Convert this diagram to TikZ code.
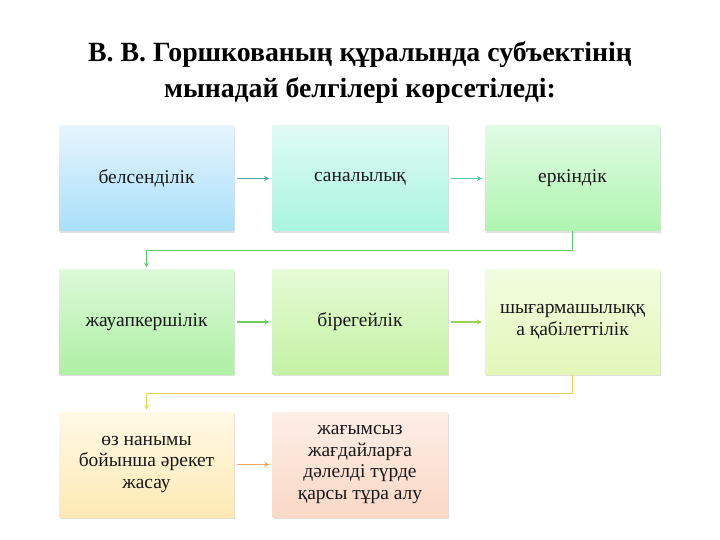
\documentclass[tikz,border=0pt]{standalone}
\usepackage{fontspec}
\setmainfont{Liberation Serif}
\usetikzlibrary{shadows}
\definecolor{arrA}{HTML}{4BA3B3}
\definecolor{arrB}{HTML}{4DC9A8}
\definecolor{arrC}{HTML}{5CCB6E}
\definecolor{arrD}{HTML}{70CC60}
\definecolor{arrE}{HTML}{9AD448}
\definecolor{arrF}{HTML}{E8D44A}
\definecolor{arrG}{HTML}{F4A55A}
% box shading, top and bottom
\definecolor{belT}{HTML}{E6F5FD}\definecolor{belB}{HTML}{A8DFF9}
\definecolor{sanT}{HTML}{E0FBF3}\definecolor{sanB}{HTML}{A9F5DF}
\definecolor{erkT}{HTML}{E0FBE3}\definecolor{erkB}{HTML}{AFF5B0}
\definecolor{jauT}{HTML}{DCF9D8}\definecolor{jauB}{HTML}{AEF0A4}
\definecolor{birT}{HTML}{E6FBD6}\definecolor{birB}{HTML}{C4F2A4}
\definecolor{shyT}{HTML}{F2FCE0}\definecolor{shyB}{HTML}{E4F7B8}
\definecolor{nanT}{HTML}{FFF9E6}\definecolor{nanB}{HTML}{FDE9B4}
\definecolor{jagT}{HTML}{FDEEE6}\definecolor{jagB}{HTML}{FAD8C6}
\begin{document}
\begin{tikzpicture}[x=1pt,y=-1pt,
        heading/.style={align=center,font=\bfseries\fontsize{27.8}{36}\selectfont},
        box/.style={minimum width=175pt,minimum height=105pt,inner sep=2pt,
           align=center,text=black!90,font=\fontsize{19.5}{21.7}\selectfont,
           top color=#1T,bottom color=#1B,
           drop shadow={shadow xshift=1pt,shadow yshift=-1.5pt,opacity=0.25}},
        link/.style={-stealth,line width=1.25pt,shorten <=3pt,shorten >=3pt},
        turn/.style={-stealth,line width=1.1pt,shorten >=2pt},
    ]
    \useasboundingbox (0,0) rectangle (720,540);
    \node[heading] (ttl) at (360,73)
        {В. В. Горшкованың құралында субъектінің\\мынадай белгілері көрсетіледі:};
    % first row
    \node[box=bel] (bel) at (146.5,178.5) {белсенділік};
    \node[box=san] (san) at (360,178.5) {саналылық};
    \node[box=erk] (erk) at (572.5,178.5) {еркіндік};
    % second row
    \node[box=jau] (jau) at (146.5,322) {жауапкершілік};
    \node[box=bir] (bir) at (360,322) {бірегейлік};
    \node[box=shy] (shy) at (572.5,322) {шығармашылыққ\\а қабілеттілік};
    % third row
    \node[box=nan] (nan) at (146.5,464.5) {өз нанымы\\бойынша әрекет\\жасау};
    \node[box=jag] (jag) at (360,464.5) {жағымсыз\\жағдайларға\\дәлелді түрде\\қарсы тұра алу};
    \draw[link,arrA] (bel) -- (san);
    \draw[link,arrB] (san) -- (erk);
    \draw[turn,arrC] (erk.south) -- ++(0,19) -| (jau.north);
    \draw[link,arrD] (jau) -- (bir);
    \draw[link,arrE] (bir) -- (shy);
    \draw[turn,arrF] (shy.south) -- ++(0,19) -| (nan.north);
    \draw[link,arrG] (nan) -- (jag);
\end{tikzpicture}
\end{document}
